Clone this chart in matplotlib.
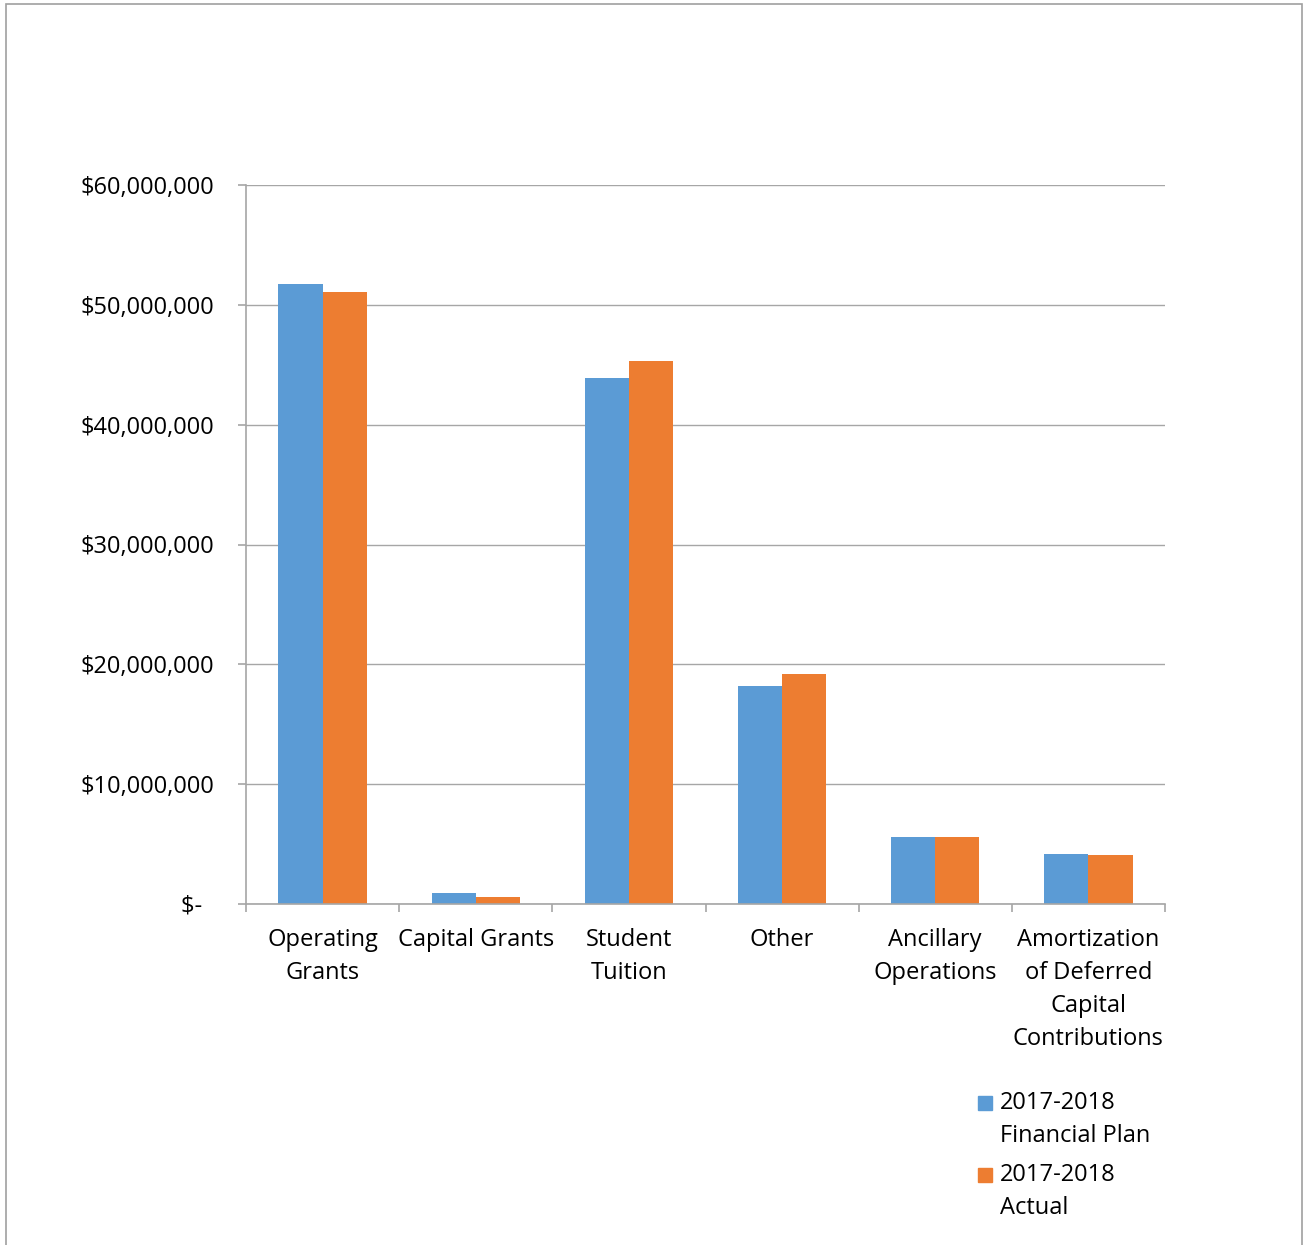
import matplotlib
matplotlib.use('Agg')
import matplotlib.pyplot as plt
import numpy as np
from matplotlib.patches import Rectangle
from matplotlib.ticker import FuncFormatter

categories = ['Operating\nGrants', 'Capital Grants', 'Student\nTuition', 'Other',
              'Ancillary\nOperations', 'Amortization\nof Deferred\nCapital\nContributions']
plan = [51.7e6, 0.95e6, 43.9e6, 18.2e6, 5.6e6, 4.2e6]
actual = [51.1e6, 0.6e6, 45.3e6, 19.2e6, 5.6e6, 4.1e6]
series_labels = ['2017-2018\nFinancial Plan', '2017-2018\nActual']

BLUE = '#5b9bd5'
ORANGE = '#ed7d31'
GRID = '#a6a6a6'
FS = 17

plt.rcParams['font.family'] = ['Open Sans', 'DejaVu Sans']

W, H = 1303, 1245
fig = plt.figure(figsize=(W / 100, H / 100), dpi=100)
ax = fig.add_axes([246/W, 1 - 904/H, (1165-246)/W, (904-185)/H])

x = np.arange(len(categories))
w = 0.288
b1 = ax.bar(x - w/2, plan, w, color=BLUE)
b2 = ax.bar(x + w/2, actual, w, color=ORANGE)

ax.set_xlim(-0.5, len(categories) - 0.5)
ax.set_ylim(0, 60e6)
ax.set_yticks(np.arange(0, 60e6 + 1, 10e6))

def fmt(v, pos):
    return '$-  ' if v == 0 else f'${v:,.0f}'
ax.yaxis.set_major_formatter(FuncFormatter(fmt))

ax.grid(axis='y', color=GRID, linewidth=1.0)
ax.set_axisbelow(True)
for s in ['top', 'right']:
    ax.spines[s].set_visible(False)
for s in ['left', 'bottom']:
    ax.spines[s].set_color(GRID)
    ax.spines[s].set_linewidth(1.2)

# x ticks at category boundaries, labels centered
ax.set_xticks(np.arange(-0.5, len(categories), 1.0))
ax.set_xticklabels([])
ax.set_xticks(x, minor=True)
ax.set_xticklabels(categories, minor=True, fontsize=FS, linespacing=1.5)
ax.tick_params(axis='x', which='major', length=6, color=GRID, width=1.2)
ax.tick_params(axis='x', which='minor', length=0, pad=17.5)
ax.tick_params(axis='y', length=6, color=GRID, width=1.2, labelsize=FS, pad=17)

# legend: square aligned with first line of each two-line label
for i, (lab, col) in enumerate(zip(series_labels, [BLUE, ORANGE])):
    y0 = 1103 + i * 72
    fig.patches.append(Rectangle((978/W, 1 - (y0 + 7)/H), 14/W, 14/H,
                                 transform=fig.transFigure, color=col))
    for j, line in enumerate(lab.split('\n')):
        fig.text(1000/W, 1 - (y0 + j * 32.5)/H, line, fontsize=FS,
                 ha='left', va='center')

fig.patches.append(Rectangle((6/W, -0.01), (1302-6)/W, 1 - 4/H + 0.01,
                             transform=fig.transFigure, fill=False,
                             edgecolor='#a0a0a0', linewidth=1.2))

fig.savefig('out.png', dpi=100)
